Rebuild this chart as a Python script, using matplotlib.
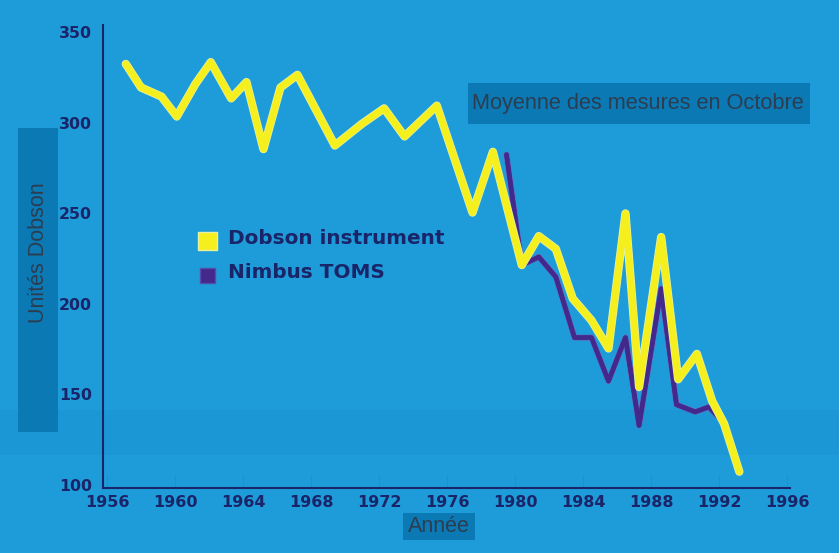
import matplotlib
matplotlib.use("Agg")
import matplotlib.pyplot as plt
import matplotlib.patheffects as pe
import matplotlib.transforms as mtransforms
from matplotlib.patches import Rectangle

# ---- data ----
dobson_years = [1957.1, 1958.0, 1959.2, 1960.1, 1961.2, 1962.1, 1963.3, 1964.2,
                1965.2, 1966.2, 1967.2, 1969.4, 1971.0, 1972.3, 1973.5, 1975.4,
                1977.5, 1978.7, 1980.4, 1981.4, 1982.4, 1983.4, 1984.5, 1985.5,
                1986.5, 1987.3, 1988.6, 1989.6, 1990.7, 1991.6, 1992.3, 1993.2]
dobson_values = [334, 321, 316, 305, 323, 335, 315, 324,
                 287, 321, 328, 289, 301, 309.5, 294, 311,
                 252, 285.5, 223, 239, 232, 204.5, 192.5, 177,
                 251.5, 155.7, 238.5, 160, 174, 148, 135.5, 109]

toms_years = [1979.5, 1980.4, 1981.4, 1982.4, 1983.5, 1984.5, 1985.5, 1986.5,
              1987.3, 1988.6, 1989.5, 1990.6, 1991.4, 1992.2, 1993.2]
toms_values = [284, 223, 227.5, 216.5, 183, 183, 159, 183,
               134.5, 210, 146, 142, 144.7, 137, 110.5]

x_ticks = [1956, 1960, 1964, 1968, 1972, 1976, 1980, 1984, 1988, 1992, 1996]
y_ticks = [100, 150, 200, 250, 300, 350]

series_labels = ["Dobson instrument", "Nimbus TOMS"]
title_text = "Moyenne des mesures en Octobre"
x_label = "Année"
y_label = "Unités Dobson"

# ---- style ----
BG = "#1e9cda"
BOX = "#0b79b3"
NAVY = "#1a2468"
BOXTEXT = "#2c3d52"
YELLOW = "#f6ef1e"
PURPLE = "#43298c"

W, H = 839, 553
fig = plt.figure(figsize=(W / 100, H / 100), dpi=100)
fig.patch.set_facecolor(BG)

left, right, bottom, top = 103, 790, 488, 25
ax = fig.add_axes([left / W, 1 - bottom / H, (right - left) / W, (bottom - top) / H])
ax.patch.set_visible(False)
ax.set_xlim(1955.76, 1996.18)
ax.set_ylim(100, 355.5)

# subtle darker band in the lower part of the picture
fig.add_artist(Rectangle((0, 1 - 455 / H), 1, 45 / H, transform=fig.transFigure,
                         facecolor="#1992cf", edgecolor="none", alpha=0.45, zorder=0))

for s in ["top", "right"]:
    ax.spines[s].set_visible(False)
for s in ["left", "bottom"]:
    ax.spines[s].set_color(NAVY)
    ax.spines[s].set_linewidth(1.5)

ax.set_xticks(x_ticks)
ax.set_yticks(y_ticks)
ax.tick_params(axis="x", length=10, width=0.8, color="#2a8cc8", direction="in",
               pad=5, labelsize=11.5, labelcolor=NAVY)
ax.tick_params(axis="y", length=0, pad=8, labelsize=11.3, labelcolor=NAVY)
for lab in ax.get_xticklabels():
    lab.set_fontweight("bold")
    lab.set_family("DejaVu Sans")
offset = mtransforms.ScaledTranslation(0, 3 / 100, fig.dpi_scale_trans)
for lab in ax.get_yticklabels():
    lab.set_fontweight("bold")
    lab.set_family("DejaVu Sans")
    lab.set_transform(lab.get_transform() + offset)

# ---- lines ----
ax.plot(toms_years, toms_values, color=PURPLE, lw=3.2, solid_joinstyle="round",
        solid_capstyle="round", zorder=3, clip_on=False,
        path_effects=[pe.withStroke(linewidth=4.2, foreground="#6a5fb8"), pe.Normal()])
ax.plot(dobson_years, dobson_values, color=YELLOW, lw=4.6, solid_joinstyle="round",
        solid_capstyle="round", zorder=4, clip_on=False,
        path_effects=[pe.withStroke(linewidth=6.0, foreground="#e6f29a"), pe.Normal()])

# ---- legend (manual) ----
fig.add_artist(Rectangle((198 / W, 1 - 250 / H), 19 / W, 18 / H, transform=fig.transFigure,
                         facecolor=YELLOW, edgecolor="#e8f0a0", lw=1, zorder=5))
fig.add_artist(Rectangle((200 / W, 1 - 283 / H), 15 / W, 15 / H, transform=fig.transFigure,
                         facecolor=PURPLE, edgecolor="#5a4aa8", lw=1, zorder=5))
fig.text(228 / W, 1 - 239 / H, series_labels[0], fontsize=14.4, fontweight="bold",
         color=NAVY, va="center", ha="left", family="DejaVu Sans")
fig.text(228 / W, 1 - 273 / H, series_labels[1], fontsize=14.4, fontweight="bold",
         color=NAVY, va="center", ha="left", family="DejaVu Sans")

# ---- boxed texts ----
fig.add_artist(Rectangle((468 / W, 1 - 124 / H), (810 - 468) / W, 41 / H,
                         transform=fig.transFigure, facecolor=BOX, edgecolor="none", zorder=1))
fig.text(638 / W, 1 - 103 / H, title_text, fontsize=15.7, color=BOXTEXT,
         ha="center", va="center", family="Liberation Sans", zorder=2)

fig.add_artist(Rectangle((18 / W, 1 - 432 / H), 40 / W, (432 - 128) / H,
                         transform=fig.transFigure, facecolor=BOX, edgecolor="none", zorder=1))
fig.text(38 / W, 1 - 253 / H, y_label, fontsize=15.5, color=BOXTEXT, rotation=90,
         ha="center", va="center", family="Liberation Sans", zorder=2)

fig.add_artist(Rectangle((403 / W, 1 - 540 / H), 72 / W, 27 / H,
                         transform=fig.transFigure, facecolor=BOX, edgecolor="none", zorder=1))
fig.text(439 / W, 1 - 527 / H, x_label, fontsize=15.5, color=BOXTEXT,
         ha="center", va="center", family="Liberation Sans", zorder=2)

fig.savefig("out.png", dpi=100, facecolor=fig.get_facecolor())
